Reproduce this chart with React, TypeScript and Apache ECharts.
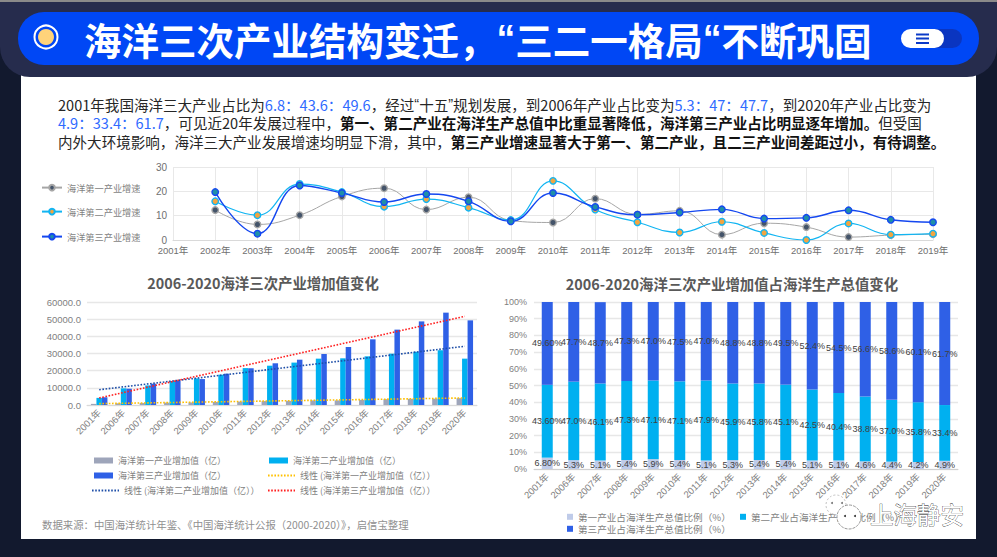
import React, { useEffect, useRef } from "react";
import * as echarts from "echarts";

const growthYears = ["2001年","2002年","2003年","2004年","2005年","2006年","2007年","2008年","2009年","2010年","2011年","2012年","2013年","2014年","2015年","2016年","2017年","2018年","2019年"];
const growthFirst = [null,12.3,6.4,10.2,17.9,21.3,12.5,17.6,8.0,7.2,17.0,10.5,12.0,2.2,6.9,5.3,1.2,2.0,2.4];
const growthSecond = [null,15.9,10.2,23.0,19.7,13.7,16.8,13.3,8.2,24.3,12.5,7.3,3.1,7.5,2.9,0.0,6.8,2.2,2.6];
const growthThird = [null,19.7,2.6,22.4,19.3,15.6,18.9,15.9,7.7,19.3,13.6,10.4,11.3,12.6,8.8,9.1,12.2,8.3,7.3];

const years = ["2001年","2006年","2007年","2008年","2009年","2010年","2011年","2012年","2013年","2014年","2015年","2016年","2017年","2018年","2019年","2020年"];
const valueFirst = [650,1000,1200,1400,1500,1800,2000,2300,2450,2700,2700,3000,3400,3600,3700,4000];
const valueSecond = [4150,9700,11400,13800,15500,17650,21500,22900,24700,27000,27200,28350,29900,31000,31900,27000];
const valueThird = [4500,9500,12400,14200,15100,18250,21400,24300,26400,29700,33800,38250,43900,48700,53800,49300];
const trendFirst = [800,null,null,null,null,null,null,null,null,null,null,null,null,null,null,4100];
const trendSecond = [8900,null,null,null,null,null,null,null,null,null,null,null,null,null,null,34200];
const trendThird = [4100,null,null,null,null,null,null,null,null,null,null,null,null,null,null,51650];

const shareFirst = [6.8,5.3,5.1,5.4,5.9,5.4,5.1,5.3,5.4,5.4,5.1,5.1,4.6,4.4,4.2,4.9];
const shareSecond = [43.6,47.0,46.1,47.3,47.1,47.1,47.9,45.9,45.8,45.1,42.5,40.4,38.8,37.0,35.8,33.4];
const shareThird = [49.6,47.7,48.7,47.3,47.0,47.5,47.0,48.8,48.8,49.5,52.4,54.5,56.6,58.6,60.1,61.7];

const CJK = '"Noto Sans CJK SC","Noto Sans",sans-serif';
const LAT = '"Liberation Sans","Noto Sans CJK SC",sans-serif';
const BLUE_TXT = "#2f6bff";
const BODY = 14.55;

const bodyLines = [
  "2001年我国海洋三大产业占比为{b|6.8：43.6：49.6}，经过{q|“}十五{q|”}规划发展，到2006年产业占比变为{b|5.3：47：47.7}，到2020年产业占比变为",
  "{b|4.9：33.4：61.7}，可见近20年发展过程中，{s|第一、第二产业在海洋生产总值中比重显著降低，海洋第三产业占比明显逐年增加。}但受国",
  "内外大环境影响，海洋三大产业发展增速均明显下滑，其中，{s|第三产业增速显著大于第一、第二产业，且二三产业间差距过小，有待调整。}",
];

function lineSeries(name: string, data: any[], color: string, fill: string, width: number) {
  return {
    name, type: "line", xAxisIndex: 0, yAxisIndex: 0, data, smooth: 0.45,
    symbol: "circle", symbolSize: 6.5,
    lineStyle: { color, width },
    itemStyle: { color: fill, borderColor: color, borderWidth: 1.4 },
  };
}
function trend(name: string, data: any[], color: string) {
  return {
    name, type: "line", xAxisIndex: 1, yAxisIndex: 1, data, connectNulls: true,
    symbol: "none", z: 5,
    lineStyle: { color, width: 1.6, type: [1.6, 1.6] },
    itemStyle: { color },
  };
}
function share(name: string, data: number[], color: string) {
  return {
    name, type: "bar", xAxisIndex: 2, yAxisIndex: 2, stack: "s", data, barWidth: 11,
    itemStyle: { color },
    label: {
      show: true, position: "inside", color: "#404040", fontSize: 9, fontFamily: LAT,
      formatter: (p: any) => (p.dataIndex === 0 ? p.value.toFixed(2) : p.value.toFixed(1)) + "%",
    },
    labelLayout: { hideOverlap: false },
  };
}
const legendBase = { orient: "horizontal", padding: 0, selectedMode: false };
const legendText = (size: number) => ({ color: "#7f7f7f", fontSize: size, fontFamily: CJK });
const barLegend = { ...legendBase, itemWidth: 19, itemHeight: 6, icon: "rect", textStyle: legendText(9) };
const trendLegend = { ...legendBase, itemWidth: 27, itemHeight: 6, itemStyle: { opacity: 0 }, textStyle: legendText(9) };
const lineLegend = { ...legendBase, left: 41, itemWidth: 20, itemHeight: 7, textStyle: legendText(9.2) };
const shareLegend = { ...legendBase, itemWidth: 6, itemHeight: 6, icon: "rect", textStyle: legendText(9.6) };

export default function App() {
  const ref = useRef<HTMLDivElement>(null);
  useEffect(() => {
    const chart = echarts.init(ref.current!, null, { renderer: "svg" });
    const option: any = {
      animation: false,
      backgroundColor: "#12192e",
      grid: [
        { left: 173, top: 167, width: 760, height: 73 },
        { left: 87, top: 302, width: 390, height: 103 },
        { left: 534, top: 302, width: 424, height: 167 },
      ],
      xAxis: [
        {
          gridIndex: 0, type: "category", data: growthYears, boundaryGap: false,
          axisTick: { show: false }, axisLine: { lineStyle: { color: "#d9d9d9", width: 1 } },
          splitLine: { show: true, lineStyle: { color: "#e8e8e8", width: 1 } },
          axisLabel: { color: "#6f6f6f", fontSize: 9.5, fontFamily: LAT, margin: 6, interval: 0 },
        },
        {
          gridIndex: 1, type: "category", data: years,
          axisTick: { show: false }, axisLine: { lineStyle: { color: "#d9d9d9" } },
          axisLabel: { color: "#7f7f7f", fontSize: 9.5, fontFamily: LAT, rotate: 45, margin: 6, interval: 0 },
        },
        {
          gridIndex: 2, type: "category", data: years,
          axisTick: { show: false }, axisLine: { lineStyle: { color: "#d0d0d0" } },
          axisLabel: { color: "#7f7f7f", fontSize: 9.5, fontFamily: LAT, rotate: 45, margin: 6, interval: 0 },
        },
      ],
      yAxis: [
        {
          gridIndex: 0, type: "value", min: 0, max: 30, interval: 10,
          axisLine: { show: false }, axisTick: { show: false },
          splitLine: { lineStyle: { color: "#e8e8e8", width: 1 } },
          axisLabel: { color: "#6f6f6f", fontSize: 10, fontFamily: LAT, margin: 6 },
        },
        {
          gridIndex: 1, type: "value", min: 0, max: 60000, interval: 10000,
          axisLine: { show: false }, axisTick: { show: false },
          splitLine: { lineStyle: { color: "#e7e7e7", width: 1.4 } },
          axisLabel: { color: "#7f7f7f", fontSize: 9.5, fontFamily: LAT, margin: 6, formatter: (v: number) => v.toFixed(1) },
        },
        {
          gridIndex: 2, type: "value", min: 0, max: 100, interval: 10,
          axisLine: { show: false }, axisTick: { show: false },
          splitLine: { lineStyle: { color: "#e7e7e7", width: 1.4 } },
          axisLabel: { color: "#7f7f7f", fontSize: 9, fontFamily: LAT, margin: 7, formatter: "{value}%" },
        },
      ],
      legend: [
        { ...lineLegend, top: 183, data: ["海洋第一产业增速"] },
        { ...lineLegend, top: 207, data: ["海洋第二产业增速"] },
        { ...lineLegend, top: 232, data: ["海洋第三产业增速"] },
        { ...barLegend, left: 94, top: 456, data: ["海洋第一产业增加值（亿）"] },
        { ...barLegend, left: 269, top: 456, data: ["海洋第二产业增加值（亿）"] },
        { ...barLegend, left: 94, top: 471, data: ["海洋第三产业增加值（亿）"] },
        { ...trendLegend, left: 267, top: 471, data: ["线性 (海洋第一产业增加值（亿））"] },
        { ...trendLegend, left: 91, top: 486, data: ["线性 (海洋第二产业增加值（亿））"] },
        { ...trendLegend, left: 267, top: 486, data: ["线性 (海洋第三产业增加值（亿））"] },
        { ...shareLegend, left: 567, top: 512, data: ["第一产业占海洋生产总值比例（%）"] },
        { ...shareLegend, left: 740, top: 512, data: ["第二产业占海洋生产总值比例（%）"] },
        { ...shareLegend, left: 567, top: 524, data: ["第三产业占海洋生产总值比例（%）"] },
      ],
      series: [
        lineSeries("海洋第一产业增速", growthFirst, "#a6a6a6", "#44546a", 1),
        lineSeries("海洋第二产业增速", growthSecond, "#12b5f2", "#f2a541", 1.2),
        lineSeries("海洋第三产业增速", growthThird, "#1447f0", "#1f8fa8", 1.4),
        { name: "海洋第一产业增加值（亿）", type: "bar", xAxisIndex: 1, yAxisIndex: 1, data: valueFirst, barWidth: 5.5, barGap: 0, itemStyle: { color: "#9ea5ba" } },
        { name: "海洋第二产业增加值（亿）", type: "bar", xAxisIndex: 1, yAxisIndex: 1, data: valueSecond, barWidth: 5.5, barGap: 0, itemStyle: { color: "#00b0f0" } },
        { name: "海洋第三产业增加值（亿）", type: "bar", xAxisIndex: 1, yAxisIndex: 1, data: valueThird, barWidth: 5.5, barGap: 0, itemStyle: { color: "#2f60e6" } },
        trend("线性 (海洋第一产业增加值（亿））", trendFirst, "#ffc000"),
        trend("线性 (海洋第二产业增加值（亿））", trendSecond, "#1f4fa8"),
        trend("线性 (海洋第三产业增加值（亿））", trendThird, "#ff2020"),
        share("第一产业占海洋生产总值比例（%）", shareFirst, "#bfcbe9"),
        share("第二产业占海洋生产总值比例（%）", shareSecond, "#00b0f0"),
        share("第三产业占海洋生产总值比例（%）", shareThird, "#2f60e6"),
      ],
      graphic: [
        { type: "rect", z: -10, shape: { x: 21, y: 70, width: 955, height: 469 }, style: { fill: "#ffffff" } },
        { type: "rect", z: -9, shape: { x: 0, y: 2, width: 997, height: 75, r: [0, 0, 30, 30] }, style: { fill: "#262c4d" } },
        { type: "rect", z: -8, shape: { x: 0, y: 0, width: 997, height: 2 }, style: { fill: "#8a8a8a" } },
        { type: "rect", z: -7, shape: { x: 18, y: 12, width: 961, height: 53, r: 26 }, style: { fill: "#0047f5" } },
        { type: "circle", z: -6, shape: { cx: 46, cy: 37, r: 11.5 }, style: { fill: "#0047f5", stroke: "#ffffff", lineWidth: 2 } },
        { type: "circle", z: -5, shape: { cx: 46, cy: 37, r: 8 }, style: { fill: "#ffd37a" } },
        {
          type: "text", z: -5, x: 84, y: 38,
          style: {
            text: "海洋三次产业结构变迁，{q|“}三二一格局{q|“}不断巩固", fill: "#ffffff", font: `bold 37.5px ${CJK}`, verticalAlign: "middle",
            rich: { q: { fill: "#ffffff", font: `bold 37.5px "Liberation Sans"` } },
          },
        },
        { type: "rect", z: -5, shape: { x: 915, y: 29, width: 47, height: 19, r: 9.5 }, style: { fill: "#0a35c0" } },
        { type: "rect", z: -4, shape: { x: 901, y: 29, width: 43, height: 19, r: 9.5 }, style: { fill: "#ffffff" } },
        { type: "rect", z: -3, shape: { x: 916, y: 33.5, width: 13, height: 2 }, style: { fill: "#0b3ac8" } },
        { type: "rect", z: -3, shape: { x: 916, y: 37.5, width: 13, height: 2 }, style: { fill: "#0b3ac8" } },
        { type: "rect", z: -3, shape: { x: 916, y: 42, width: 13, height: 2 }, style: { fill: "#0b3ac8" } },
        ...bodyLines.map((text, i) => ({
          type: "text", z: -3, x: 58, y: [104, 122, 141][i],
          style: {
            text, fill: "#262626", font: `${BODY}px ${CJK}`, verticalAlign: "middle",
            rich: {
              b: { fill: BLUE_TXT, font: `${BODY}px ${CJK}`, verticalAlign: "middle" },
              q: { fill: "#262626", font: `${BODY}px "Liberation Sans"`, verticalAlign: "middle" },
              s: { fill: "#111111", font: `bold ${BODY}px ${CJK}`, verticalAlign: "middle" },
            },
          },
        })),
        { type: "text", z: -3, x: 263, y: 282, style: { text: "2006-2020海洋三次产业增加值变化", fill: "#595959", font: `bold 14.4px ${CJK}`, align: "center", verticalAlign: "middle" } },
        { type: "text", z: -3, x: 732, y: 283, style: { text: "2006-2020海洋三次产业增加值占海洋生产总值变化", fill: "#595959", font: `bold 14.4px ${CJK}`, align: "center", verticalAlign: "middle" } },
        { type: "text", z: -3, x: 42, y: 524, style: { text: "数据来源：中国海洋统计年鉴、《中国海洋统计公报（2000-2020）》，启信宝整理", fill: "#8f8f8f", font: `10.4px ${CJK}`, verticalAlign: "middle" } },
        { type: "circle", z: 100, shape: { cx: 836, cy: 505, r: 10 }, style: { fill: "rgba(255,255,255,0.5)", stroke: "#9a9a9a", lineWidth: 0.6, lineDash: [2, 2] } },
        { type: "circle", z: 101, shape: { cx: 849, cy: 517, r: 12 }, style: { fill: "#ffffff", stroke: "#555555", lineWidth: 0.6, lineDash: [3, 1] } },
        { type: "circle", z: 102, shape: { cx: 832, cy: 503, r: 1 }, style: { fill: "#777777" } },
        { type: "circle", z: 102, shape: { cx: 842, cy: 503, r: 1 }, style: { fill: "#777777" } },
        { type: "circle", z: 102, shape: { cx: 845, cy: 516, r: 1 }, style: { fill: "#333333" } },
        { type: "circle", z: 102, shape: { cx: 855, cy: 516, r: 1 }, style: { fill: "#333333" } },
        { type: "text", z: 103, x: 870, y: 514, style: { text: "上海静安", fill: "#ffffff", stroke: "#111111", lineWidth: 0.6, font: `23.5px ${CJK}`, verticalAlign: "middle" } },
      ],
    };
    chart.setOption(option);
    return () => chart.dispose();
  }, []);
  return <div ref={ref} style={{ position: "absolute", left: 0, top: 0, width: 997, height: 557 }} />;
}
